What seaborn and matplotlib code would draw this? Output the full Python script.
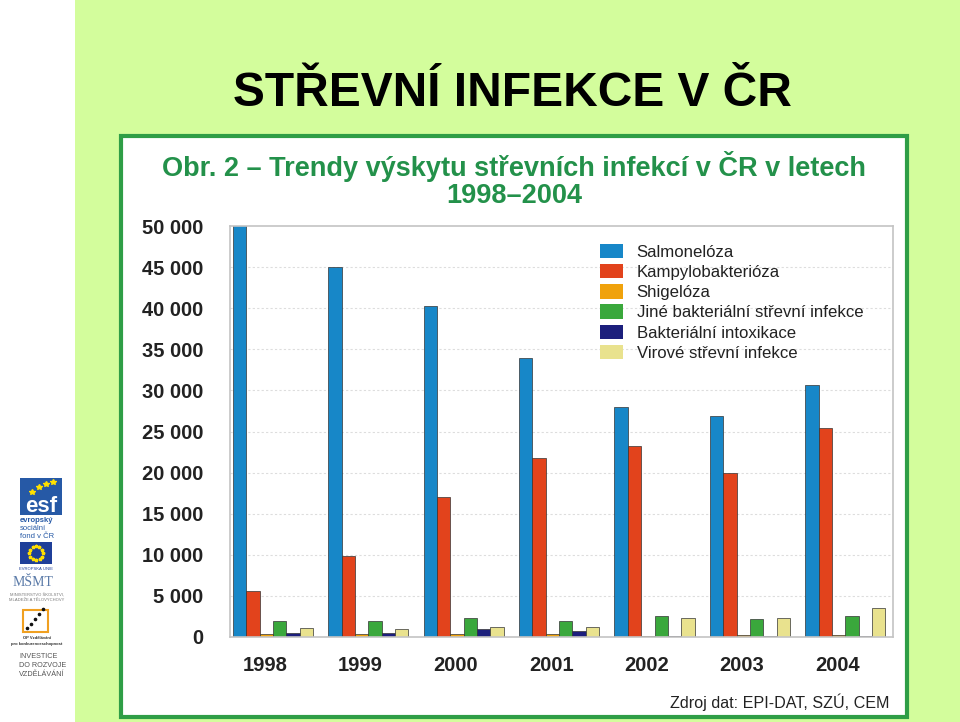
import matplotlib
matplotlib.use("Agg")
import matplotlib.pyplot as plt
import matplotlib.patches as mpatches
import matplotlib.transforms as mtransforms
from matplotlib.ticker import FixedLocator
import numpy as np
import pandas as pd
import seaborn as sns

# ---------------- data ----------------
years = ["1998", "1999", "2000", "2001", "2002", "2003", "2004"]
series = ["Salmonelóza", "Kampylobakterióza", "Shigelóza",
          "Jiné bakteriální střevní infekce", "Bakteriální intoxikace",
          "Virové střevní infekce"]
salmoneloza = [50800, 45000, 40300, 33900, 28000, 26900, 30700]
kampylobakterioza = [5600, 9900, 17000, 21800, 23200, 20000, 25400]
shigeloza = [400, 400, 400, 400, 100, 300, 300]
jine_bakterialni = [1900, 1900, 2300, 1900, 2600, 2200, 2600]
bakterialni_intoxikace = [500, 500, 1000, 700, 150, 150, 150]
virove = [1100, 1000, 1200, 1200, 2300, 2300, 3500]
ytick_values = [0, 5000, 10000, 15000, 20000, 25000, 30000, 35000, 40000, 45000, 50000]
ytick_labels = ["0", "5 000", "10 000", "15 000", "20 000", "25 000", "30 000",
                "35 000", "40 000", "45 000", "50 000"]

slide_title = "STŘEVNÍ INFEKCE V ČR"
chart_title_1 = "Obr. 2 – Trendy výskytu střevních infekcí v ČR v letech"
chart_title_2 = "1998–2004"
source_text = "Zdroj dat: EPI-DAT, SZÚ, CEM"

colors = ["#1787c8", "#e2431c", "#f0a20c", "#3aa83c", "#1c1f7c", "#e9e28e"]

all_vals = [salmoneloza, kampylobakterioza, shigeloza, jine_bakterialni,
            bakterialni_intoxikace, virove]
df = pd.DataFrame({
    "year": [y for s in series for y in years],
    "series": [s for s in series for _ in years],
    "value": [v for vals in all_vals for v in vals],
})

# ---------------- figure ----------------
W, H = 960, 722
fig = plt.figure(figsize=(9.6, 7.22), dpi=100)
fig.patch.set_facecolor("white")

def px(x, y):
    return x / W, 1 - y / H

def rect_px(x0, y0, x1, y1, **kw):
    r = mpatches.Rectangle((x0 / W, 1 - y1 / H), (x1 - x0) / W, (y1 - y0) / H,
                           transform=fig.transFigure, **kw)
    fig.add_artist(r)
    return r

# slide background (green area)
rect_px(75, 0, 960, 722, facecolor="#d3fd9c", edgecolor="none", zorder=0)

# slide title
fig.text(*px(512, 93), slide_title, ha="center", va="center",
         fontsize=34.5, fontweight="bold",
         family=["Liberation Sans", "DejaVu Sans"], color="black")

# chart panel
rect_px(121, 136, 907, 717, facecolor="white", edgecolor="#2f9e46",
        linewidth=3, zorder=1)

fig.text(*px(514, 167), chart_title_1, ha="center", va="center",
         fontsize=19.5, fontweight="bold", color="#23914a",
         family=["Liberation Sans", "DejaVu Sans"], zorder=3)
fig.text(*px(514, 196), chart_title_2, ha="center", va="center",
         fontsize=19.5, fontweight="bold", color="#23914a",
         family=["Liberation Sans", "DejaVu Sans"], zorder=3)

# ---------------- bar chart ----------------
ax = fig.add_axes([230 / W, 1 - 637 / H, (893 - 230) / W, (637 - 226) / H], zorder=2)
sns.barplot(data=df, x="year", y="value", hue="series", hue_order=series,
            palette=colors, width=0.84, ax=ax, edgecolor="#333333",
            linewidth=0.5, saturation=1, legend=True)
ax.set_facecolor("white")
ax.set_ylim(0, 50000)
ax.set_xlim(-0.45, 6.5)
ax.yaxis.set_major_locator(FixedLocator(ytick_values))
ax.set_yticklabels(ytick_labels, fontsize=14.5, fontweight="bold",
                   family=["Liberation Sans", "DejaVu Sans"], color="#222222")
ax.set_xticklabels(years, fontsize=14.5, fontweight="bold",
                   family=["Liberation Sans", "DejaVu Sans"], color="#222222")
ax.tick_params(axis="y", length=0, pad=19)
ax.tick_params(axis="x", length=0, pad=14)
shift = mtransforms.ScaledTranslation(-0.08, 0, fig.dpi_scale_trans)
for lab in ax.get_xticklabels():
    lab.set_transform(lab.get_transform() + shift)
ax.set_xlabel("")
ax.set_ylabel("")
for s in ax.spines.values():
    s.set_color("#c4c4c4")
    s.set_linewidth(1.2)
for yv in ytick_values[1:-1]:
    ax.axhline(yv, color="#dddddd", linewidth=0.8, linestyle=(0, (2, 2)), zorder=0)

leg = ax.legend(loc="upper left", bbox_to_anchor=((593 - 230) / (893 - 230), 1 - (237 - 226) / (637 - 226)),
                frameon=False, handlelength=1.4, handleheight=0.95,
                handletextpad=0.8, labelspacing=0.25, borderaxespad=0,
                prop={"family": ["Liberation Sans", "DejaVu Sans"], "size": 12.1})
for t in leg.get_texts():
    t.set_color("#222222")
for h in leg.legend_handles:
    h.set_edgecolor("none")

fig.text(*px(890, 702), source_text, ha="right", va="center", fontsize=11.6,
         family=["Liberation Sans", "DejaVu Sans"], color="#222222", zorder=3)

# ---------------- left logo strip ----------------
# ESF logo
rect_px(20, 478, 62, 515, facecolor="#2659a6", edgecolor="none", zorder=2)
fig.text(*px(41, 506), "esf", ha="center", va="center", fontsize=16,
         fontweight="bold", color="white", family="Liberation Sans", zorder=3)
fig.add_artist(plt.Line2D(np.array([32, 39, 46, 53]) / W,
                          1 - np.array([492, 487, 484, 482]) / H,
                          linestyle="none", marker="*", markersize=4,
                          color="#ffe100", transform=fig.transFigure, zorder=3))
fig.text(*px(20, 520), "evropský", ha="left", va="center", fontsize=5.5,
         fontweight="bold", color="#2659a6", family="Liberation Sans")
fig.text(*px(20, 528), "sociální", ha="left", va="center", fontsize=5.5,
         color="#2659a6", family="Liberation Sans")
fig.text(*px(20, 536), "fond v ČR", ha="left", va="center", fontsize=5.5,
         color="#2659a6", family="Liberation Sans")
# EU flag
rect_px(20, 542, 52, 564, facecolor="#1f3f99", edgecolor="none", zorder=2)
ang = np.linspace(0, 2 * np.pi, 12, endpoint=False)
fig.add_artist(plt.Line2D((36 + 7 * np.cos(ang)) / W, 1 - (553 + 7 * np.sin(ang)) / H,
                          linestyle="none", marker="*", markersize=2.5,
                          color="#ffdd00", transform=fig.transFigure, zorder=3))
fig.text(*px(36, 569), "EVROPSKÁ UNIE", ha="center", va="center", fontsize=3,
         color="#1f3f99", family="Liberation Sans")
# MSMT
fig.text(*px(33, 582), "MŠMT", ha="center", va="center", fontsize=10,
         color="#5a7aa8", family="Liberation Serif")
fig.text(*px(37, 595), "MINISTERSTVO ŠKOLSTVÍ,", ha="center", va="center",
         fontsize=3, color="#777777", family="Liberation Sans")
fig.text(*px(37, 600), "MLÁDEŽE A TĚLOVÝCHOVY", ha="center", va="center",
         fontsize=3, color="#777777", family="Liberation Sans")
# OP logo
rect_px(23, 610, 48, 632, facecolor="none", edgecolor="#f0a020", linewidth=1.5, zorder=2)
fig.add_artist(plt.Line2D(np.array([27, 31, 35, 39, 43]) / W,
                          1 - np.array([628, 624, 619, 614, 609]) / H,
                          linestyle="none", marker="o", markersize=1.6,
                          color="#111111", transform=fig.transFigure, zorder=3))
fig.text(*px(37, 638), "OP Vzdělávání", ha="center", va="center", fontsize=3,
         fontweight="bold", color="#333333", family="Liberation Sans")
fig.text(*px(37, 644), "pro konkurenceschopnost", ha="center", va="center", fontsize=3,
         fontweight="bold", color="#333333", family="Liberation Sans")
for i, line in enumerate(["INVESTICE", "DO ROZVOJE", "VZDĚLÁVÁNÍ"]):
    fig.text(*px(19, 656 + 9.5 * i), line, ha="left", va="center", fontsize=5.2,
             color="#555555", family="Liberation Sans")

fig.savefig("out.png", dpi=100, facecolor=fig.get_facecolor())
